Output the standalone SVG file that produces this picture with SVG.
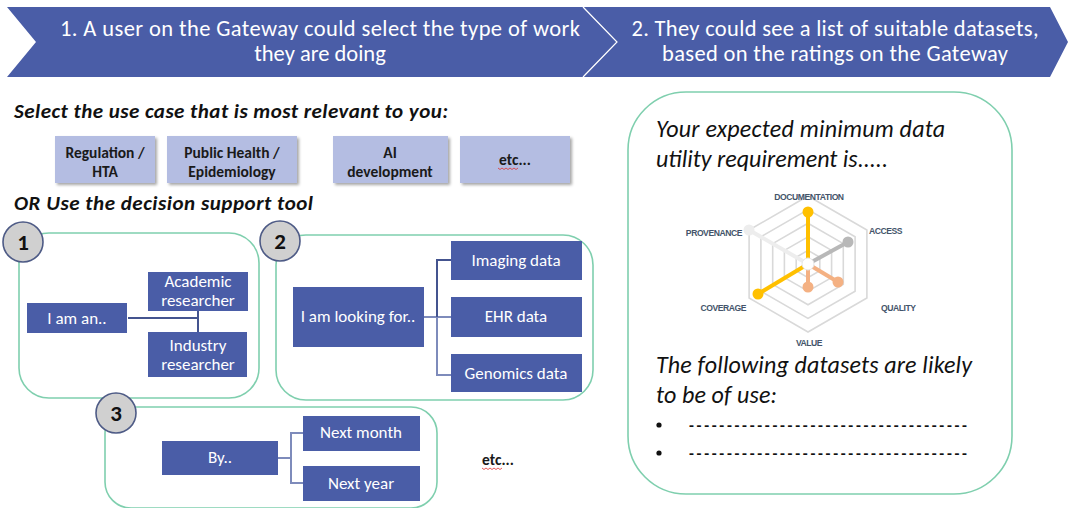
<svg xmlns="http://www.w3.org/2000/svg" width="1069" height="508" viewBox="0 0 1069 508">
  <defs>
    <style>
      .ban { fill: #4A5DA7; }
      .bant { font-family: Carlito, Lato, "Liberation Sans", sans-serif; font-size: 22.5px; fill: #ffffff; text-anchor: middle; }
      .head { font-family: Carlito, Lato, "Liberation Sans", sans-serif; font-size: 21px; font-weight: bold; font-style: italic; fill: #111111; }
      .btn { fill: #B4BDE2; }
      .btnt { font-family: Carlito, Lato, "Liberation Sans", sans-serif; font-size: 15.5px; font-weight: bold; fill: #1a1a1a; text-anchor: middle; }
      .panel { fill: none; stroke: #7FCFAE; stroke-width: 1.6; }
      .num { fill: #D0D0D0; stroke: #4E5B86; stroke-width: 1.6; }
      .numt { font-family: Carlito, Lato, "Liberation Sans", sans-serif; font-size: 23px; font-weight: bold; fill: #111111; text-anchor: middle; }
      .node { fill: #4A5DA7; }
      .nodet { font-family: Carlito, Lato, "Liberation Sans", sans-serif; font-size: 17px; fill: #ffffff; text-anchor: middle; }
      .conn { fill: none; stroke: #7E8BBB; stroke-width: 2; }
      .conn-dark { fill: none; stroke: #44548F; stroke-width: 2; }
      .ital { font-family: Carlito, Lato, "Liberation Sans", sans-serif; font-size: 24px; font-style: italic; fill: #111111; }
      .grid { fill: none; stroke: #D9D9D9; stroke-width: 1.6; }
      .axl { font-family: "Liberation Sans", Arial, sans-serif; font-size: 8.6px; font-weight: bold; fill: #44546A; letter-spacing: -0.45px; }
      .squig { fill: none; stroke: #E03030; stroke-width: 0.8; }
      .plain { font-family: Carlito, Lato, "Liberation Sans", sans-serif; font-size: 16px; font-weight: bold; fill: #111111; }
    </style>
    <filter id="shadow" x="-10%" y="-10%" width="125%" height="135%">
      <feDropShadow dx="2" dy="2" stdDeviation="1.5" flood-color="#000000" flood-opacity="0.35"/>
    </filter>
  </defs>

  <rect width="1069" height="508" fill="#ffffff"/>

  <!-- Step banners -->
  <g id="banner-1">
    <polygon class="ban" points="7,7 583,7 617,42 583,77 7,77 36,42"/>
    <text class="bant" x="320" y="36" textLength="520" lengthAdjust="spacing">1. A user on the Gateway could select the type of work</text>
    <text class="bant" x="320" y="61">they are doing</text>
  </g>
  <g id="banner-2">
    <polygon class="ban" points="583,7 1050,7 1068,42 1050,77 583,77 617,42"/>
    <polyline points="583,7 617,42 583,77" fill="none" stroke="#ffffff" stroke-width="1.2"/>
    <text class="bant" x="835" y="36" textLength="407" lengthAdjust="spacing">2. They could see a list of suitable datasets,</text>
    <text class="bant" x="835" y="61" textLength="346" lengthAdjust="spacing">based on the ratings on the Gateway</text>
  </g>

  <!-- Use case selection -->
  <text class="head" x="14" y="118" textLength="434" lengthAdjust="spacing">Select the use case that is most relevant to you:</text>

  <g id="usecase-regulation">
    <rect class="btn" x="55" y="136" width="100" height="47" filter="url(#shadow)"/>
    <text class="btnt" x="105" y="158">Regulation /</text>
    <text class="btnt" x="105" y="177">HTA</text>
  </g>
  <g id="usecase-public-health">
    <rect class="btn" x="167" y="136" width="130" height="47" filter="url(#shadow)"/>
    <text class="btnt" x="232" y="158">Public Health /</text>
    <text class="btnt" x="232" y="177">Epidemiology</text>
  </g>
  <g id="usecase-ai">
    <rect class="btn" x="333" y="136" width="115" height="47" filter="url(#shadow)"/>
    <text class="btnt" x="390" y="158">AI</text>
    <text class="btnt" x="390" y="177">development</text>
  </g>
  <g id="usecase-etc">
    <rect class="btn" x="460" y="136" width="110" height="47" filter="url(#shadow)"/>
    <text class="btnt" x="515" y="165">etc...</text>
    <path class="squig" d="M498,168 l2,1.5 l2,-1.5 l2,1.5 l2,-1.5 l2,1.5 l2,-1.5 l2,1.5 l2,-1.5 l2,1.5 l2,-1.5"/>
  </g>

  <text class="head" x="14" y="210" textLength="299" lengthAdjust="spacing">OR Use the decision support tool</text>

  <!-- Decision step panels -->
  <g id="panel-1">
    <rect class="panel" x="19" y="233" width="240" height="165" rx="30" ry="30"/>
    <circle class="num" cx="23" cy="242" r="20"/>
    <text class="numt" x="23" y="250">1</text>
  </g>
  <g id="panel-2">
    <rect class="panel" x="276" y="235" width="317" height="165" rx="30" ry="30"/>
    <circle class="num" cx="280" cy="241" r="20"/>
    <text class="numt" x="280" y="249">2</text>
  </g>
  <g id="panel-3">
    <rect class="panel" x="105" y="407" width="332" height="101" rx="26" ry="26"/>
    <circle class="num" cx="116" cy="413" r="20"/>
    <text class="numt" x="116" y="421">3</text>
  </g>

  <!-- Connectors -->
  <g id="connectors">
    <polyline class="conn-dark" points="128,318 198,318"/>
    <polyline class="conn-dark" points="198,311 198,332"/>
    <polyline class="conn" points="424,317 451,317"/>
    <polyline class="conn-dark" points="451,260 437,260 437,317"/>
    <polyline class="conn" points="437,317 437,375 451,375"/>
    <polyline class="conn" points="278,458 291,458"/>
    <polyline class="conn" points="303,433 291,433 291,483 303,483"/>
  </g>

  <!-- Step 1 nodes -->
  <g id="node-i-am-an">
    <rect class="node" x="27" y="303" width="100" height="30"/>
    <text class="nodet" x="77" y="324">I am an..</text>
  </g>
  <g id="node-academic">
    <rect class="node" x="148" y="272" width="100" height="39"/>
    <text class="nodet" x="198" y="287">Academic</text>
    <text class="nodet" x="198" y="306">researcher</text>
  </g>
  <g id="node-industry">
    <rect class="node" x="148" y="332" width="99" height="45"/>
    <text class="nodet" x="198" y="351">Industry</text>
    <text class="nodet" x="198" y="370">researcher</text>
  </g>

  <!-- Step 2 nodes -->
  <g id="node-looking-for">
    <rect class="node" x="293" y="287" width="131" height="60"/>
    <text class="nodet" x="358" y="322">I am looking  for..</text>
  </g>
  <g id="node-imaging">
    <rect class="node" x="451" y="241" width="131" height="39"/>
    <text class="nodet" x="516" y="266">Imaging data</text>
  </g>
  <g id="node-ehr">
    <rect class="node" x="451" y="297" width="131" height="40"/>
    <text class="nodet" x="516" y="322">EHR data</text>
  </g>
  <g id="node-genomics">
    <rect class="node" x="451" y="354" width="131" height="38"/>
    <text class="nodet" x="516" y="379">Genomics data</text>
  </g>

  <!-- Step 3 nodes -->
  <g id="node-by">
    <rect class="node" x="162" y="441" width="116" height="34"/>
    <text class="nodet" x="220" y="463">By..</text>
  </g>
  <g id="node-next-month">
    <rect class="node" x="303" y="416" width="117" height="35"/>
    <text class="nodet" x="361" y="438">Next month</text>
  </g>
  <g id="node-next-year">
    <rect class="node" x="303" y="466" width="117" height="35"/>
    <text class="nodet" x="361" y="489">Next year</text>
  </g>

  <g id="more-steps">
    <text class="btnt" x="498" y="465">etc...</text>
    <path class="squig" d="M482,468 l2,1.5 l2,-1.5 l2,1.5 l2,-1.5 l2,1.5 l2,-1.5 l2,1.5 l2,-1.5 l2,1.5 l2,-1.5"/>
  </g>

  <!-- Result panel -->
  <g id="result-panel">
    <rect class="panel" x="628" y="92" width="384" height="402" rx="58" ry="58"/>
    <text class="ital" x="656" y="137" textLength="289" lengthAdjust="spacing">Your expected minimum data</text>
    <text class="ital" x="656" y="167" textLength="232" lengthAdjust="spacing">utility requirement is.....</text>

    <!-- radar chart -->
    <g id="radar">
      <polygon class="grid" points="808,196 866.9,230 866.9,298 808,332 749.1,298 749.1,230"/>
      <polygon class="grid" points="808,209.6 855.1,236.8 855.1,291.2 808,318.4 760.9,291.2 760.9,236.8"/>
      <polygon class="grid" points="808,223.2 843.3,243.6 843.3,284.4 808,304.8 772.7,284.4 772.7,243.6"/>
      <polygon class="grid" points="808,236.8 831.6,250.4 831.6,277.6 808,291.2 784.4,277.6 784.4,250.4"/>
      <polygon class="grid" points="808,250.4 819.8,257.2 819.8,270.8 808,277.6 796.2,270.8 796.2,257.2"/>

      <line x1="808" y1="264" x2="749" y2="230" stroke="#EDEDED" stroke-width="4"/>
      <circle cx="749" cy="230" r="5.5" fill="#EDEDED"/>
      <line x1="808" y1="264" x2="848" y2="242" stroke="#B8B8B8" stroke-width="4"/>
      <circle cx="848" cy="242" r="5.5" fill="#B8B8B8"/>
      <line x1="808" y1="264" x2="838" y2="282" stroke="#F4B183" stroke-width="4"/>
      <circle cx="838" cy="282" r="5.5" fill="#F4B183"/>
      <line x1="808" y1="264" x2="808" y2="287" stroke="#F4B183" stroke-width="4"/>
      <circle cx="808" cy="287" r="5.5" fill="#F4B183"/>
      <line x1="808" y1="264" x2="808" y2="212" stroke="#FFC000" stroke-width="4"/>
      <circle cx="808" cy="212" r="5.5" fill="#FFC000"/>
      <line x1="808" y1="264" x2="758" y2="294" stroke="#FFC000" stroke-width="4"/>
      <circle cx="758" cy="294" r="5.5" fill="#FFC000"/>
      <circle cx="808" cy="264" r="6" fill="#ffffff" stroke="#E6E6E6" stroke-width="1"/>

      <text class="axl" x="809" y="200" text-anchor="middle">DOCUMENTATION</text>
      <text class="axl" x="869" y="234">ACCESS</text>
      <text class="axl" x="881" y="311">QUALITY</text>
      <text class="axl" x="809" y="346" text-anchor="middle">VALUE</text>
      <text class="axl" x="746" y="311" text-anchor="end">COVERAGE</text>
      <text class="axl" x="742" y="236" text-anchor="end">PROVENANCE</text>
    </g>

    <text class="ital" x="656" y="373" textLength="316" lengthAdjust="spacing">The following datasets are likely</text>
    <text class="ital" x="656" y="403" textLength="121" lengthAdjust="spacing">to be of use:</text>
    <circle cx="659" cy="425" r="2.6" fill="#111111"/>
    <circle cx="659" cy="453" r="2.6" fill="#111111"/>
    <text class="plain" x="689" y="431" textLength="278" lengthAdjust="spacing">-------------------------------------</text>
    <text class="plain" x="689" y="459" textLength="278" lengthAdjust="spacing">-------------------------------------</text>
  </g>
</svg>
